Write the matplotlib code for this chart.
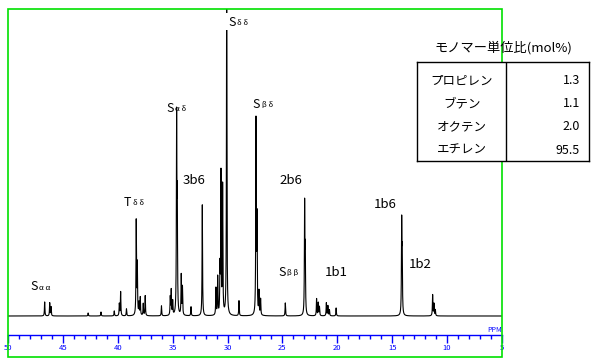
# -*- coding: utf-8 -*-
"""
13C-NMRスペクトル（エチレン系共重合体）とモノマー単位比の表
"""
import numpy as np
import matplotlib.pyplot as plt
from matplotlib.patches import Rectangle

plt.rcParams['font.family'] = ['Noto Sans CJK JP', 'DejaVu Sans']

# ピーク位置(ppm)と高さ（スペクトル上の読み取り値）
peak_ppm = [46.66, 46.20, 46.08, 42.7, 41.53, 40.32, 39.86, 39.74, 39.21,
            38.32, 38.22, 38.07, 37.95, 37.68, 37.50, 36.02, 35.22, 35.13,
            35.00, 34.64, 34.58, 34.22, 34.11, 33.33, 32.30, 31.06, 30.90,
            30.69, 30.60, 30.45, 30.08, 28.96, 27.41, 27.32, 27.14, 26.99,
            24.74, 22.98, 22.92, 21.89, 21.74, 21.63, 21.00, 20.86, 20.72,
            20.11, 14.14, 14.09, 11.32, 11.20, 11.07]
peak_height = [14, 13, 9, 3, 4, 5, 12, 24, 7,
               94, 50, 12, 18, 12, 20, 10, 18, 25,
               14, 193, 105, 40, 28, 9, 111, 27, 38,
               45, 140, 128, 340, 15, 193, 93, 23, 16,
               13, 109, 60, 17, 13, 9, 13, 10, 6,
               8, 90, 55, 21, 12, 6]
peak_gamma = 0.025

# 帰属ラベル
label_main = ['S', 'T', 'S', '3b6', 'S', 'S', '2b6', 'S', '1b1', '1b6', '1b2']
label_sub = ['α α', 'δ δ', 'α δ', '', 'δ δ', 'β δ', '', 'β β', '', '', '']
label_ppm = [48.0, 39.44, 35.61, 33.06, 29.92, 27.69, 24.23, 25.41, 20.13, 15.66, 12.48]
label_level = [29, 114, 208, 136, 294, 212, 136, 44, 44, 111, 52]

# モノマー単位比
monomer_names = ['プロピレン', 'ブテン', 'オクテン', 'エチレン']
monomer_ratio = ['1.3', '1.1', '2.0', '95.5']

tick_major = np.arange(50, 4, -5)
tick_minor = np.arange(50, 4, -1)

# スペクトルの計算（ローレンツ線形の和）
ppm = np.linspace(50, 5, 18001)
spec = np.zeros_like(ppm)
for p, h in zip(peak_ppm, peak_height):
    spec += h * peak_gamma**2 / ((ppm - p)**2 + peak_gamma**2)

W, H = 600, 359
fig = plt.figure(figsize=(W / 100, H / 100), dpi=100)
ax = fig.add_axes([8 / W, 2 / H, 494 / W, 348 / H])
ax.plot(ppm, spec, color='black', lw=0.8, zorder=2)
ax.set_xlim(50, 5)
ax.set_ylim(-41, 307)

# 緑の枠
for s in ['left', 'right', 'top']:
    ax.spines[s].set_visible(False)
ax.add_patch(Rectangle((0, 0), 1, 1, transform=ax.transAxes, fill=False,
                       edgecolor='#00e000', lw=1.2, clip_on=False, zorder=5))

# 青いppm軸
ax.spines['bottom'].set_position(('data', -19))
ax.spines['bottom'].set_color('blue')
ax.spines['bottom'].set_linewidth(1.0)
ax.set_xticks(tick_major)
ax.set_xticklabels([str(t) for t in tick_major])
ax.set_xticks(tick_minor, minor=True)
ax.tick_params(axis='x', which='major', length=5.5, width=1, color='blue',
               labelcolor='blue', labelsize=5.5, pad=1)
ax.tick_params(axis='x', which='minor', length=3, width=1, color='blue')
ax.set_yticks([])
ax.text(5.7, -14, 'PPM', color='blue', fontsize=5, ha='center', va='center')

# Sδδラベルの下地（ピーク線を隠す）
ax.add_patch(Rectangle((30.2, 286), -2.2, 17, facecolor='white',
                       edgecolor='none', zorder=3))

# ラベル
for m, s, x, y in zip(label_main, label_sub, label_ppm, label_level):
    if s:
        ax.text(x, y, m, fontsize=9, ha='left', va='center', zorder=4)
        ax.annotate(s, (x, y), xytext=(6.5, -1), textcoords='offset points',
                    fontsize=5.5, ha='left', va='center', zorder=4)
    else:
        ax.text(x, y, m, fontsize=9.5, ha='center', va='center', zorder=4)

# モノマー単位比の表
fig.text(503 / W, 1 - 48 / H, 'モノマー単位比(mol%)', ha='center', va='center',
         fontsize=9.5)
tax = fig.add_axes([417 / W, 1 - 161 / H, 172 / W, 99 / H])
tax.set_facecolor('white')
tax.set_xlim(0, 1)
tax.set_ylim(1, 0)
tax.set_xticks([])
tax.set_yticks([])
for s in tax.spines.values():
    s.set_linewidth(1.0)
tax.axvline(0.517, color='black', lw=1.0)
for i, (n, r) in enumerate(zip(monomer_names, monomer_ratio)):
    yy = 0.19 + i * 0.233
    tax.text(0.26, yy, n, ha='center', va='center', fontsize=9)
    tax.text(0.948, yy, r, ha='right', va='center', fontsize=9)

fig.savefig('out.png', dpi=100)
